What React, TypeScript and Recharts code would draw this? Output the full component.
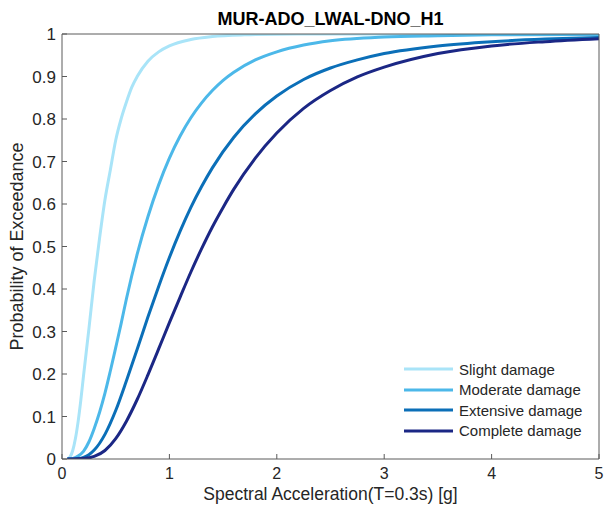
import React from "react";
import { LineChart, Line, XAxis, YAxis, Legend } from "recharts";

// Fragility curves (x = Sa [g], y = probability of exceedance)
const slight = [
  { x: 0.05, y: 0.0 }, { x: 0.075, y: 0.005 }, { x: 0.1, y: 0.02 }, { x: 0.125, y: 0.048 },
  { x: 0.15, y: 0.088 }, { x: 0.175, y: 0.138 }, { x: 0.2, y: 0.195 }, { x: 0.25, y: 0.305 },
  { x: 0.3, y: 0.42 }, { x: 0.35, y: 0.52 }, { x: 0.4, y: 0.61 }, { x: 0.45, y: 0.68 },
  { x: 0.5, y: 0.75 }, { x: 0.55, y: 0.8 }, { x: 0.6, y: 0.84 }, { x: 0.65, y: 0.875 },
  { x: 0.7, y: 0.9 }, { x: 0.8, y: 0.936 }, { x: 0.9, y: 0.958 }, { x: 1.0, y: 0.972 },
  { x: 1.2, y: 0.987 }, { x: 1.4, y: 0.994 }, { x: 1.7, y: 0.998 }, { x: 2.2, y: 1.0 },
  { x: 5.0, y: 1.0 },
];
const moderate = [
  { x: 0.05, y: 0.0 }, { x: 0.1, y: 0.001 }, { x: 0.15, y: 0.007 }, { x: 0.2, y: 0.018 },
  { x: 0.25, y: 0.04 }, { x: 0.3, y: 0.072 }, { x: 0.35, y: 0.11 }, { x: 0.4, y: 0.155 },
  { x: 0.45, y: 0.207 }, { x: 0.5, y: 0.262 }, { x: 0.55, y: 0.318 }, { x: 0.6, y: 0.377 },
  { x: 0.7, y: 0.482 }, { x: 0.8, y: 0.57 }, { x: 0.9, y: 0.645 }, { x: 1.0, y: 0.708 },
  { x: 1.1, y: 0.76 }, { x: 1.2, y: 0.803 }, { x: 1.3, y: 0.838 }, { x: 1.4, y: 0.867 },
  { x: 1.5, y: 0.891 }, { x: 1.6, y: 0.91 }, { x: 1.8, y: 0.939 }, { x: 2.0, y: 0.958 },
  { x: 2.25, y: 0.974 }, { x: 2.5, y: 0.984 }, { x: 3.0, y: 0.993 }, { x: 3.5, y: 0.996 },
  { x: 4.0, y: 0.998 }, { x: 5.0, y: 0.999 },
];
const extensive = [
  { x: 0.05, y: 0.0 }, { x: 0.1, y: 0.0 }, { x: 0.15, y: 0.001 }, { x: 0.2, y: 0.004 },
  { x: 0.25, y: 0.01 }, { x: 0.3, y: 0.021 }, { x: 0.4, y: 0.058 }, { x: 0.5, y: 0.114 },
  { x: 0.6, y: 0.184 }, { x: 0.7, y: 0.258 }, { x: 0.8, y: 0.334 }, { x: 0.9, y: 0.406 },
  { x: 1.0, y: 0.474 }, { x: 1.1, y: 0.536 }, { x: 1.2, y: 0.592 }, { x: 1.3, y: 0.641 },
  { x: 1.4, y: 0.685 }, { x: 1.6, y: 0.757 }, { x: 1.8, y: 0.812 }, { x: 2.0, y: 0.854 },
  { x: 2.25, y: 0.893 }, { x: 2.5, y: 0.92 }, { x: 2.75, y: 0.939 }, { x: 3.0, y: 0.954 },
  { x: 3.5, y: 0.972 }, { x: 4.0, y: 0.982 }, { x: 4.5, y: 0.988 }, { x: 5.0, y: 0.992 },
];
const complete = [
  { x: 0.05, y: 0.0 }, { x: 0.1, y: 0.0 }, { x: 0.2, y: 0.001 }, { x: 0.3, y: 0.006 },
  { x: 0.4, y: 0.02 }, { x: 0.5, y: 0.048 }, { x: 0.6, y: 0.089 }, { x: 0.7, y: 0.14 },
  { x: 0.8, y: 0.198 }, { x: 0.9, y: 0.259 }, { x: 1.0, y: 0.321 }, { x: 1.1, y: 0.381 },
  { x: 1.2, y: 0.44 }, { x: 1.3, y: 0.495 }, { x: 1.4, y: 0.546 }, { x: 1.5, y: 0.592 },
  { x: 1.6, y: 0.635 }, { x: 1.8, y: 0.708 }, { x: 2.0, y: 0.767 }, { x: 2.25, y: 0.825 },
  { x: 2.5, y: 0.867 }, { x: 2.75, y: 0.899 }, { x: 3.0, y: 0.922 }, { x: 3.5, y: 0.954 },
  { x: 4.0, y: 0.972 }, { x: 4.5, y: 0.982 }, { x: 5.0, y: 0.989 },
];

const seriesNames = ["Slight damage", "Moderate damage", "Extensive damage", "Complete damage"];
const seriesColors = ["#a9e4f8", "#4cb8e9", "#0b6fb8", "#1b2785"];
const seriesData = [slight, moderate, extensive, complete];

const xTicks = [0, 1, 2, 3, 4, 5];
const yTicks = [0, 0.1, 0.2, 0.3, 0.4, 0.5, 0.6, 0.7, 0.8, 0.9, 1];
const yTickLabels = ["0", "0.1", "0.2", "0.3", "0.4", "0.5", "0.6", "0.7", "0.8", "0.9", "1"];

const titleText = "MUR-ADO_LWAL-DNO_H1";
const xLabel = "Spectral Acceleration(T=0.3s) [g]";
const yLabel = "Probability of Exceedance";

const FONT = '"Liberation Sans", Arial, Helvetica, sans-serif';
const TEXT = "#262626";
const AXIS = "#5a5a5a";

const LegendBox = () => (
  <div style={{ fontFamily: FONT, fontSize: 15, color: TEXT }}>
    {seriesNames.map((n, i) => (
      <div key={n} style={{ display: "flex", alignItems: "center", height: 20.5 }}>
        <svg width={49} height={6} style={{ display: "block" }}>
          <line x1={0} y1={3} x2={49} y2={3} stroke={seriesColors[i]} strokeWidth={3} />
        </svg>
        <span style={{ marginLeft: 6, whiteSpace: "nowrap" }}>{n}</span>
      </div>
    ))}
  </div>
);

export default function App() {
  return (
    <div style={{ position: "absolute", left: 0, top: 0, width: 604, height: 511, background: "#fff" }}>
      <div
        style={{
          position: "absolute", left: 62, width: 537, top: 10, textAlign: "center",
          fontFamily: FONT, fontWeight: "bold", fontSize: 18, lineHeight: "18px", color: "#000",
        }}
      >
        {titleText}
      </div>
      <LineChart width={604} height={511} margin={{ top: 34, right: 5, left: 0, bottom: 0 }}>
        <XAxis
          xAxisId="b" dataKey="x" type="number" domain={[0, 5]} ticks={xTicks} allowDataOverflow
          height={52} tickSize={-5} tickMargin={14} stroke={AXIS}
          tick={{ fill: TEXT, fontSize: 16, fontFamily: FONT }}
          label={{ value: xLabel, position: "insideBottom", offset: 11.5, fill: TEXT, fontSize: 17.5, fontFamily: FONT }}
        />
        <XAxis
          xAxisId="t" orientation="top" type="number" domain={[0, 5]} ticks={xTicks} allowDataOverflow
          mirror tick={false} tickSize={5} stroke={AXIS}
        />
        <YAxis
          yAxisId="l" type="number" domain={[0, 1]} ticks={yTicks} allowDataOverflow
          width={62} tickSize={-5} tickMargin={11} stroke={AXIS}
          tickFormatter={(v: number) => yTickLabels[yTicks.indexOf(v)] ?? String(v)}
          tick={{ fill: TEXT, fontSize: 17, fontFamily: FONT }}
          label={{
            value: yLabel, angle: -90, position: "insideLeft", offset: 17, fill: TEXT, fontSize: 18,
            fontFamily: FONT, style: { textAnchor: "middle" },
          }}
        />
        <YAxis
          yAxisId="r" orientation="right" type="number" domain={[0, 1]} ticks={yTicks} allowDataOverflow
          mirror tick={false} tickSize={5} stroke={AXIS}
        />
        {seriesData.map((d, i) => (
          <Line
            key={seriesNames[i]} name={seriesNames[i]} data={d} dataKey="y" xAxisId="b" yAxisId="l"
            type="monotone" dot={false} activeDot={false} stroke={seriesColors[i]} strokeWidth={3}
            isAnimationActive={false}
          />
        ))}
        <Legend
          layout="vertical" align="center" verticalAlign="middle"
          wrapperStyle={{ left: 404, top: 359, width: 190 }}
          content={() => <LegendBox />}
        />
      </LineChart>
    </div>
  );
}
